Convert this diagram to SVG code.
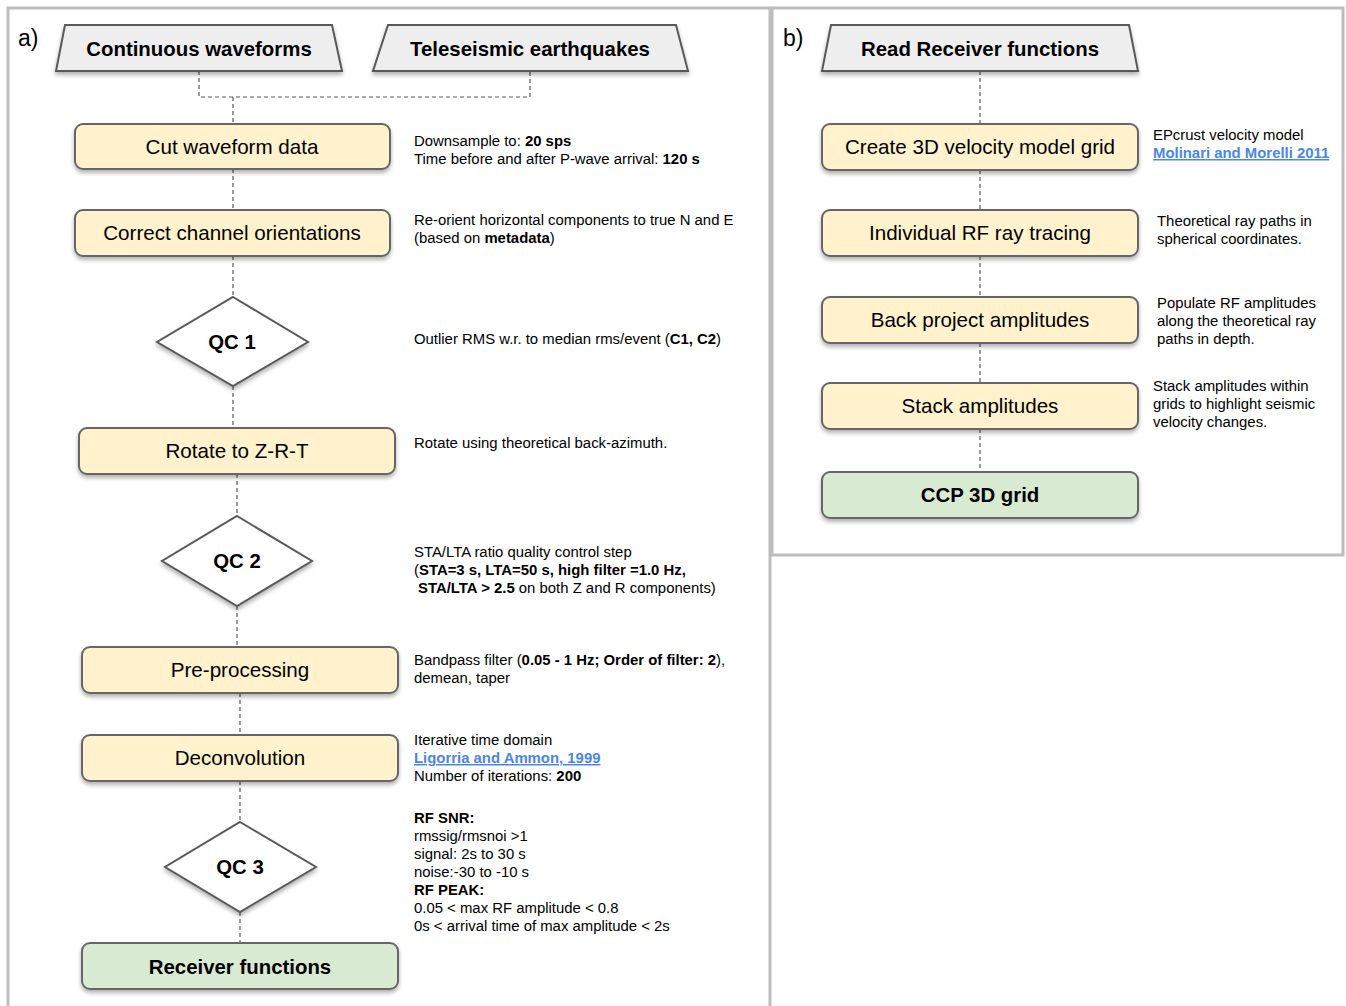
<svg xmlns="http://www.w3.org/2000/svg" width="1346" height="1006" viewBox="0 0 1346 1006">
<style>
text{font-family:"Liberation Sans",Arial,Helvetica,sans-serif;fill:#000}
.panel{fill:none;stroke:#bdbdbd;stroke-width:3}
.io{fill:#eeeeee;stroke:#595959;stroke-width:2;filter:url(#sh)}
.proc{fill:#fff2cc;stroke:#666;stroke-width:2;filter:url(#sh)}
.end{fill:#d9ead3;stroke:#666;stroke-width:2;filter:url(#sh)}
.dec{fill:#fff;stroke:#595959;stroke-width:2;filter:url(#sh)}
.lbl{font-size:20.6px;text-anchor:middle}
.blbl{font-size:20.4px;font-weight:bold;text-anchor:middle}
.note{font-size:14.9px}
.b{font-weight:bold}
.link{fill:#4a86e8;font-weight:bold;text-decoration:underline}
.con{fill:none;stroke:#595959;stroke-width:1.2;stroke-dasharray:4 3}
.tag{font-size:23px}
</style>
<defs>
<filter id="sh" x="-10%" y="-20%" width="120%" height="160%">
<feDropShadow dx="0" dy="3" stdDeviation="2" flood-color="#000" flood-opacity="0.3"/>
</filter>
</defs>
<rect class="panel" x="8" y="8" width="762" height="1010"/>
<rect class="panel" x="772" y="8" width="571" height="547"/>
<text class="tag" x="18" y="46">a)</text>
<text class="tag" x="783" y="46">b)</text>

<g id="connectors">
<path class="con" d="M199 71 V97 H530 V71"/>
<path class="con" d="M233 97 V124"/>
<path class="con" d="M233 169 V210"/>
<path class="con" d="M233 256 V297"/>
<path class="con" d="M233 386 V428"/>
<path class="con" d="M237 474 V516"/>
<path class="con" d="M237 606 V647"/>
<path class="con" d="M240 693 V735"/>
<path class="con" d="M240 781 V822"/>
<path class="con" d="M240 912 V943"/>
<path class="con" d="M980 71 V124"/>
<path class="con" d="M980 170 V210"/>
<path class="con" d="M980 256 V297"/>
<path class="con" d="M980 343 V383"/>
<path class="con" d="M980 429 V472"/>
</g>

<g id="continuous">
<polygon class="io" points="65,25 332,25 342,71 56,71"/>
<text class="blbl" x="199" y="56">Continuous waveforms</text>
</g>
<g id="teleseismic">
<polygon class="io" points="388,25 676,25 688,71 373,71"/>
<text class="blbl" x="530" y="56">Teleseismic earthquakes</text>
</g>
<g id="cut">
<rect class="proc" x="75" y="124" width="315" height="45" rx="8"/>
<text class="lbl" x="232" y="154">Cut waveform data</text>
</g>
<g id="orient">
<rect class="proc" x="75" y="210" width="315" height="46" rx="8"/>
<text class="lbl" x="232" y="240">Correct channel orientations</text>
</g>
<g id="qc1">
<polygon class="dec" points="233,297 308,342 233,386 157,342"/>
<text class="blbl" x="232" y="349">QC 1</text>
</g>
<g id="rotate">
<rect class="proc" x="79" y="428" width="316" height="46" rx="8"/>
<text class="lbl" x="237" y="458">Rotate to Z-R-T</text>
</g>
<g id="qc2">
<polygon class="dec" points="237,516 312,561 237,606 162,561"/>
<text class="blbl" x="237" y="568">QC 2</text>
</g>
<g id="preproc">
<rect class="proc" x="82" y="647" width="316" height="46" rx="8"/>
<text class="lbl" x="240" y="677">Pre-processing</text>
</g>
<g id="deconv">
<rect class="proc" x="82" y="735" width="316" height="46" rx="8"/>
<text class="lbl" x="240" y="765">Deconvolution</text>
</g>
<g id="qc3">
<polygon class="dec" points="240,822 316,867 240,912 165,867"/>
<text class="blbl" x="240" y="874">QC 3</text>
</g>
<g id="rf">
<rect class="end" x="82" y="943" width="316" height="46" rx="8"/>
<text class="blbl" x="240" y="974">Receiver functions</text>
</g>

<g id="notes-a">
<text class="note" x="414" y="146">Downsample to: <tspan class="b">20 sps</tspan></text>
<text class="note" x="414" y="164">Time before and after P-wave arrival: <tspan class="b">120 s</tspan></text>
<text class="note" x="414" y="225">Re-orient horizontal components to true N and E</text>
<text class="note" x="414" y="243">(based on <tspan class="b">metadata</tspan>)</text>
<text class="note" x="414" y="344">Outlier RMS w.r. to median rms/event (<tspan class="b">C1, C2</tspan>)</text>
<text class="note" x="414" y="448">Rotate using theoretical back-azimuth.</text>
<text class="note" x="414" y="557">STA/LTA ratio quality control step</text>
<text class="note" x="414" y="575">(<tspan class="b">STA=3 s, LTA=50 s, high filter =1.0 Hz,</tspan></text>
<text class="note" x="418" y="593"><tspan class="b">STA/LTA &gt; 2.5</tspan> on both Z and R components)</text>
<text class="note" x="414" y="665">Bandpass filter (<tspan class="b">0.05 - 1 Hz; Order of filter: 2</tspan>),</text>
<text class="note" x="414" y="683">demean, taper</text>
<text class="note" x="414" y="745">Iterative time domain</text>
<text class="note link" x="414" y="763">Ligorria and Ammon, 1999</text>
<text class="note" x="414" y="781">Number of iterations: <tspan class="b">200</tspan></text>
<text class="note b" x="414" y="823">RF SNR:</text>
<text class="note" x="414" y="841">rmssig/rmsnoi &gt;1</text>
<text class="note" x="414" y="859">signal: 2s to 30 s</text>
<text class="note" x="414" y="877">noise:-30 to -10 s</text>
<text class="note b" x="414" y="895">RF PEAK:</text>
<text class="note" x="414" y="913">0.05 &lt; max RF amplitude &lt; 0.8</text>
<text class="note" x="414" y="931">0s &lt; arrival time of max amplitude &lt; 2s</text>
</g>

<g id="readrf">
<polygon class="io" points="831,25 1129,25 1138,71 822,71"/>
<text class="blbl" x="980" y="56">Read Receiver functions</text>
</g>
<g id="grid">
<rect class="proc" x="822" y="124" width="316" height="46" rx="8"/>
<text class="lbl" x="980" y="154">Create 3D velocity model grid</text>
</g>
<g id="raytrace">
<rect class="proc" x="822" y="210" width="316" height="46" rx="8"/>
<text class="lbl" x="980" y="240">Individual RF ray tracing</text>
</g>
<g id="backproj">
<rect class="proc" x="822" y="297" width="316" height="46" rx="8"/>
<text class="lbl" x="980" y="327">Back project amplitudes</text>
</g>
<g id="stack">
<rect class="proc" x="822" y="383" width="316" height="46" rx="8"/>
<text class="lbl" x="980" y="413">Stack amplitudes</text>
</g>
<g id="ccp">
<rect class="end" x="822" y="472" width="316" height="46" rx="8"/>
<text class="blbl" x="980" y="502">CCP 3D grid</text>
</g>

<g id="notes-b">
<text class="note" x="1153" y="140">EPcrust velocity model</text>
<text class="note link" x="1153" y="158">Molinari and Morelli 2011</text>
<text class="note" x="1157" y="226">Theoretical ray paths in</text>
<text class="note" x="1157" y="244">spherical coordinates.</text>
<text class="note" x="1157" y="308">Populate RF amplitudes</text>
<text class="note" x="1157" y="326">along the theoretical ray</text>
<text class="note" x="1157" y="344">paths in depth.</text>
<text class="note" x="1153" y="391">Stack amplitudes within</text>
<text class="note" x="1153" y="409">grids to highlight seismic</text>
<text class="note" x="1153" y="427">velocity changes.</text>
</g>
</svg>
